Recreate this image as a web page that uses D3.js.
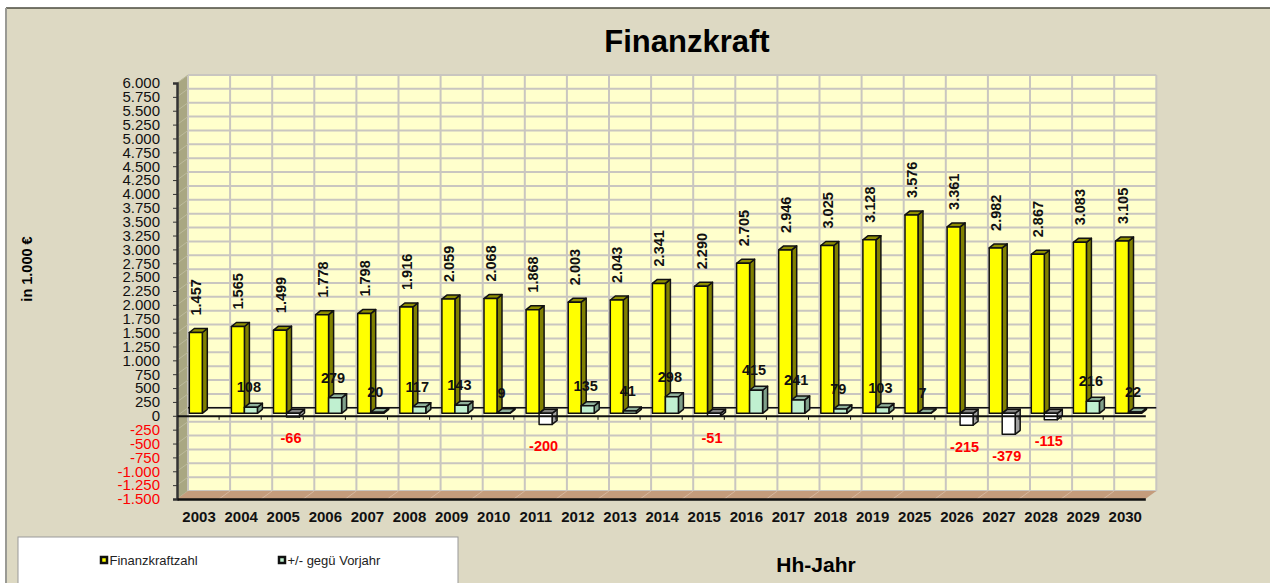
<!DOCTYPE html>
<html>
<head>
<meta charset="utf-8">
<script src="https://cdn.jsdelivr.net/npm/d3@7"></script>
<style>
  html, body { margin: 0; padding: 0; background: #fff; overflow: hidden; }
  text { font-family: "Liberation Sans", Arial, sans-serif; }
</style>
</head>
<body>
<div id="chart"></div>
<script>
'use strict';

const years = ["2003", "2004", "2005", "2006", "2007", "2008", "2009", "2010", "2011", "2012", "2013", "2014",
    "2015", "2016", "2017", "2018", "2019", "2025", "2026", "2027", "2028", "2029", "2030"];
const finanzkraft = [1457, 1565, 1499, 1778, 1798, 1916, 2059, 2068, 1868, 2003, 2043, 2341,
    2290, 2705, 2946, 3025, 3128, 3576, 3361, 2982, 2867, 3083, 3105];
const vorjahr = [null, 108, -66, 279, 20, 117, 143, 9, -200, 135, 41, 298,
    -51, 415, 241, 79, 103, 7, -215, -379, -115, 216, 22];
const yTicks = d3.range(-1500, 6001, 250);
const seriesNames = ["Finanzkraftzahl", "+/- gegü Vorjahr"];

const width = 1270, height = 583;
// offset of the back wall and of the bars' front face from the front plane
const wall = {dx: 11, dy: -8};
const barPlane = {dx: 3, dy: -2.5};
const barDepth = {dx: 5, dy: -4};

const de = d3.formatLocale({decimal: ",", thousands: ".", grouping: [3], currency: ["", " €"], minus: "-"});
const fmt = de.format(",d");

const x = d3.scaleBand().domain(years).range([177, 1145.3]);
const xBar = d3.scaleBand().domain(seriesNames).range([9.3, 35.3]);
const y = d3.scaleLinear().domain([-1500, 6000]).range([499, 83]);

const svg = d3.select("#chart").append("svg").attr("width", width).attr("height", height).style("display", "block");

// panel
svg.append("rect").attr("x", 6).attr("y", 8).attr("width", width).attr("height", height)
    .attr("fill", "#ddd9c3");
svg.append("line").attr("x1", 6).attr("x2", width).attr("y1", 8).attr("y2", 8)
    .attr("stroke", "#4a4a3e").attr("stroke-width", 1.5);
svg.append("line").attr("x1", 6).attr("x2", 6).attr("y1", 8).attr("y2", height)
    .attr("stroke", "#9a9a94").attr("stroke-width", 2);

svg.append("text").attr("x", 687).attr("y", 52).attr("text-anchor", "middle")
    .attr("font-size", 31).attr("font-weight", "bold").text("Finanzkraft");

function poly(points) {
    return points.map(p => p.join(",")).join(" ");
}

const x0 = x.range()[0], x1 = x.range()[1];
const plotTop = y(6000), plotBottom = y(-1500);

// back wall, left wall, floor
svg.append("rect").attr("x", x0 + wall.dx).attr("y", plotTop + wall.dy)
    .attr("width", x1 - x0).attr("height", plotBottom - plotTop).attr("fill", "#ffffcc");
svg.append("polygon").attr("fill", "#a9a782")
    .attr("points", poly([[x0, plotTop], [x0 + wall.dx, plotTop + wall.dy], [x0 + wall.dx, plotBottom + wall.dy], [x0, plotBottom]]));

const grid = svg.append("g").attr("stroke", "#c9c6c0").attr("stroke-width", 2);
grid.selectAll("line.h").data(yTicks).enter().append("line").attr("class", "h")
    .attr("x1", x0 + wall.dx).attr("x2", x1 + wall.dx)
    .attr("y1", d => y(d) + wall.dy).attr("y2", d => y(d) + wall.dy);
grid.selectAll("line.v").data(years.concat("end")).enter().append("line").attr("class", "v")
    .attr("x1", d => (d === "end" ? x1 : x(d)) + wall.dx).attr("x2", d => (d === "end" ? x1 : x(d)) + wall.dx)
    .attr("y1", plotTop + wall.dy).attr("y2", plotBottom + wall.dy);
// slanted lines on the left wall
svg.append("g").attr("stroke", "#bdbb9c").attr("stroke-width", 1)
    .selectAll("line").data(yTicks).enter().append("line")
    .attr("x1", x0).attr("x2", x0 + wall.dx).attr("y1", d => y(d)).attr("y2", d => y(d) + wall.dy);

svg.append("polygon").attr("fill", "#c49c7c")
    .attr("points", poly([[x0, plotBottom], [x0 + wall.dx, plotBottom + wall.dy], [x1 + wall.dx, plotBottom + wall.dy], [x1, plotBottom]]));
svg.append("g").attr("stroke", "#d6b79e").attr("stroke-width", 1)
    .selectAll("line").data(years.slice(1)).enter().append("line")
    .attr("x1", d => x(d)).attr("x2", d => x(d) + wall.dx).attr("y1", plotBottom).attr("y2", plotBottom + wall.dy);

// zero line on the back wall
svg.append("line").attr("stroke", "#111").attr("stroke-width", 1.5)
    .attr("x1", x0 + wall.dx).attr("x2", x1 + wall.dx)
    .attr("y1", y(0) + wall.dy).attr("y2", y(0) + wall.dy);

function drawBar(g, xPos, value, colors) {
    const left = xPos + barPlane.dx, right = left + xBar.bandwidth();
    const base = y(0) + barPlane.dy, end = y(value) + barPlane.dy;
    const yTop = Math.min(base, end), yBottom = Math.max(base, end);
    const dx = barDepth.dx, dy = barDepth.dy;
    const b = g.append("g").attr("stroke", "#111").attr("stroke-width", 1.5).attr("stroke-linejoin", "round");
    b.append("polygon").attr("fill", colors.side)
        .attr("points", poly([[right, yTop], [right + dx, yTop + dy], [right + dx, yBottom + dy], [right, yBottom]]));
    b.append("polygon").attr("fill", colors.top)
        .attr("points", poly([[left, yTop], [left + dx, yTop + dy], [right + dx, yTop + dy], [right, yTop]]));
    b.append("rect").attr("fill", colors.front)
        .attr("x", left).attr("y", yTop).attr("width", right - left).attr("height", yBottom - yTop);
}

const yellow = {front: "#ffff00", side: "#808000", top: "#8f8f00"};
const green = {front: "#c0f0d0", side: "#7fa08a", top: "#8fb09a"};
const white = {front: "#ffffff", side: "#a0a0a0", top: "#808080"};

const bars = svg.append("g");
years.forEach((year, i) => {
    drawBar(bars, x(year) + xBar(seriesNames[0]), finanzkraft[i], yellow);
    if (vorjahr[i] !== null) {
        drawBar(bars, x(year) + xBar(seriesNames[1]), vorjahr[i], vorjahr[i] < 0 ? white : green);
    }
});

// axes
const yAxis = svg.append("g").attr("transform", `translate(${x0},0)`)
    .call(d3.axisLeft(y).tickValues(yTicks).tickSize(4).tickPadding(13).tickFormat(fmt));
yAxis.attr("font-family", null);
yAxis.select(".domain").attr("stroke", "#333").attr("stroke-width", 2.5);
yAxis.selectAll("text").attr("font-size", 15)
    .attr("fill", d => d < 0 ? "#ff0000" : "#111");
yAxis.selectAll("line").attr("stroke", "#333");

const zeroAxis = svg.append("g").attr("transform", `translate(0,${y(0)})`)
    .call(d3.axisBottom(x).tickSize(0).tickFormat(""));
zeroAxis.select(".domain").attr("stroke", "#111").attr("stroke-width", 2);
zeroAxis.selectAll(".tick").remove();
svg.append("g").attr("stroke", "#111")
    .selectAll("line").data(years.slice(1)).enter().append("line")
    .attr("x1", d => x(d)).attr("x2", d => x(d)).attr("y1", y(0)).attr("y2", y(0) + 4);

const xAxis = svg.append("g").attr("transform", `translate(1,${plotBottom})`)
    .call(d3.axisBottom(x).tickSize(0).tickPadding(12));
xAxis.attr("font-family", null);
xAxis.select(".domain").attr("stroke", "#111").attr("stroke-width", 2.5).attr("transform", "translate(-1,0)");
xAxis.selectAll("text").attr("font-size", 15).attr("font-weight", "bold").attr("fill", "#111");

// data labels
const labels = svg.append("g").attr("font-size", 14.5).attr("font-weight", "bold");
labels.selectAll("text.fk").data(finanzkraft).enter().append("text").attr("class", "fk")
    .attr("transform", (d, i) => `translate(${x(years[i]) + xBar(seriesNames[0]) + barPlane.dx + 12},${y(d) - 19.5}) rotate(-90)`)
    .attr("fill", "#111")
    .text(d => fmt(d));
const vorjahrRows = years.map((year, i) => ({year: year, value: vorjahr[i]})).filter(r => r.value !== null);
labels.selectAll("text.vj").data(vorjahrRows).enter().append("text").attr("class", "vj")
    .attr("x", d => x(d.year) + xBar(seriesNames[1]) + barPlane.dx + xBar.bandwidth() / 2 - 2)
    .attr("y", d => d.value < 0 ? y(d.value) + 24 : y(d.value) - 17.5)
    .attr("text-anchor", "middle")
    .attr("fill", d => d.value < 0 ? "#ff0000" : "#111")
    .text(d => fmt(d.value));

// axis titles
svg.append("text").attr("transform", "translate(32,269) rotate(-90)").attr("text-anchor", "middle")
    .attr("font-size", 14.5).attr("font-weight", "bold").text("in 1.000 €");
svg.append("text").attr("x", 816).attr("y", 572).attr("text-anchor", "middle")
    .attr("font-size", 21).attr("font-weight", "bold").text("Hh-Jahr");

// legend
svg.append("rect").attr("x", 18).attr("y", 537).attr("width", 440).attr("height", 60)
    .attr("fill", "#fff").attr("stroke", "#999").attr("stroke-width", 1);
const legendX = d3.scaleOrdinal().domain(seriesNames).range([100, 278]);
const legendColor = d3.scaleOrdinal().domain(seriesNames).range([yellow.front, green.front]);
const legend = svg.append("g").selectAll("g").data(seriesNames).enter().append("g")
    .attr("transform", d => `translate(${legendX(d)},560)`);
legend.append("rect").attr("x", 1).attr("y", -3).attr("width", 6).attr("height", 6)
    .attr("fill", d => legendColor(d)).attr("stroke", "#111").attr("stroke-width", 2.5);
legend.append("text").attr("x", 9.5).attr("y", 4.5).attr("font-size", 13).attr("fill", "#222").text(d => d);
</script>
</body>
</html>
